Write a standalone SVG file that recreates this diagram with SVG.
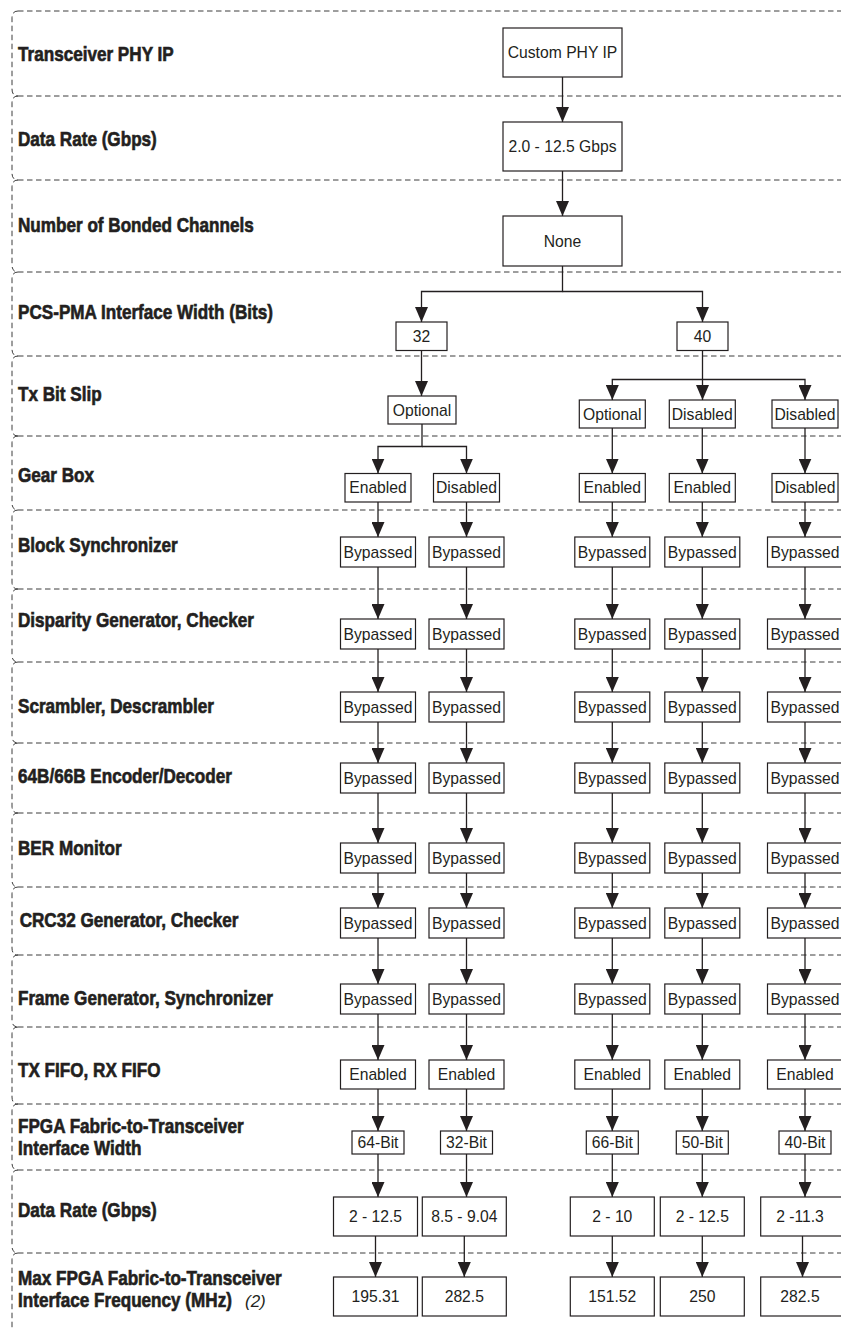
<svg xmlns="http://www.w3.org/2000/svg" width="841" height="1329" viewBox="0 0 841 1329">
<defs>
  <marker id="arw" markerUnits="userSpaceOnUse" markerWidth="15" markerHeight="13" refX="15" refY="6.5" orient="auto">
    <path d="M0,0 L15,6.5 L0,13 z" fill="#231f20"/>
  </marker>
  <style>
    .sep { fill:none; stroke:#3c3c3c; stroke-width:1; stroke-dasharray:5.5 3.5; }
    .lbl { font-family:"Liberation Sans", Arial, sans-serif; font-weight:bold; font-size:20.5px; fill:#231f20; stroke:#231f20; stroke-width:0.65; }
    .note { font-family:"Liberation Sans", Arial, sans-serif; font-style:italic; font-size:17px; fill:#231f20; }
    .node rect { fill:#fff; stroke:#231f20; stroke-width:1.2; }
    .node text { font-family:"Liberation Sans", Arial, sans-serif; font-size:15.7px; fill:#231f20; text-anchor:middle; }
    .wire { fill:none; stroke:#231f20; stroke-width:1.3; }
    .wire path.a { marker-end:url(#arw); }
  </style>
</defs>
<rect width="841" height="1329" fill="#fff"/>

<!-- row bands: shared dashed separators plus rounded left edges -->
<g id="rows" class="sep">
  <path d="M18,11 H841 M18,96 H841 M18,180 H841 M18,272 H841 M18,356 H841 M18,436 H841 M18,510 H841 M18,589 H841 M18,662 H841 M18,743 H841 M18,813 H841 M18,887 H841 M18,955 H841 M18,1027 H841 M18,1104 H841 M18,1170 H841 M18,1253 H841"/>
  <path d="M18,11 Q12,11 12,18 V89 Q12,96 18,96"/>
  <path d="M18,96 Q12,96 12,103 V173 Q12,180 18,180"/>
  <path d="M18,180 Q12,180 12,187 V265 Q12,272 18,272"/>
  <path d="M18,272 Q12,272 12,279 V349 Q12,356 18,356"/>
  <path d="M18,356 Q12,356 12,363 V429 Q12,436 18,436"/>
  <path d="M18,436 Q12,436 12,443 V503 Q12,510 18,510"/>
  <path d="M18,510 Q12,510 12,517 V582 Q12,589 18,589"/>
  <path d="M18,589 Q12,589 12,596 V655 Q12,662 18,662"/>
  <path d="M18,662 Q12,662 12,669 V736 Q12,743 18,743"/>
  <path d="M18,743 Q12,743 12,750 V806 Q12,813 18,813"/>
  <path d="M18,813 Q12,813 12,820 V880 Q12,887 18,887"/>
  <path d="M18,887 Q12,887 12,894 V948 Q12,955 18,955"/>
  <path d="M18,955 Q12,955 12,962 V1020 Q12,1027 18,1027"/>
  <path d="M18,1027 Q12,1027 12,1034 V1097 Q12,1104 18,1104"/>
  <path d="M18,1104 Q12,1104 12,1111 V1163 Q12,1170 18,1170"/>
  <path d="M18,1170 Q12,1170 12,1177 V1246 Q12,1253 18,1253"/>
  <path d="M18,1253 Q12,1253 12,1260 V1329"/>
</g>

<!-- row headings (condensed heavy sans) -->
<g id="labels" transform="matrix(0.835 0 0 1 18 0)">
  <text class="lbl" x="0" y="61.5">Transceiver PHY IP</text>
  <text class="lbl" x="0" y="146.5">Data Rate (Gbps)</text>
  <text class="lbl" x="0" y="232">Number of Bonded Channels</text>
  <text class="lbl" x="0" y="319">PCS-PMA Interface Width (Bits)</text>
  <text class="lbl" x="0" y="401">Tx Bit Slip</text>
  <text class="lbl" x="0" y="482">Gear Box</text>
  <text class="lbl" x="0" y="552">Block Synchronizer</text>
  <text class="lbl" x="0" y="627">Disparity Generator, Checker</text>
  <text class="lbl" x="0" y="713">Scrambler, Descrambler</text>
  <text class="lbl" x="0" y="783">64B/66B Encoder/Decoder</text>
  <text class="lbl" x="0" y="855">BER Monitor</text>
  <text class="lbl" x="2" y="927">CRC32 Generator, Checker</text>
  <text class="lbl" x="0" y="1005">Frame Generator, Synchronizer</text>
  <text class="lbl" x="0" y="1077">TX FIFO, RX FIFO</text>
  <text class="lbl" x="0" y="1133">FPGA Fabric-to-Transceiver</text>
  <text class="lbl" x="0" y="1155">Interface Width</text>
  <text class="lbl" x="0" y="1217">Data Rate (Gbps)</text>
  <text class="lbl" x="0" y="1285">Max FPGA Fabric-to-Transceiver</text>
  <text class="lbl" x="0" y="1307">Interface Frequency (MHz)</text>
</g>
<text class="note" x="245" y="1307">(2)</text>

<!-- connectors -->
<g id="connectors" class="wire">
  <path class="a" d="M562.5,77 V122"/>
  <path class="a" d="M562.5,171 V216"/>
  <path class="a" d="M562.5,266 V291.5 H421.5 V322"/>
  <path class="a" d="M562.5,291.5 H702.5 V322"/>
  <path class="a" d="M421.5,350.5 V396"/>
  <path class="a" d="M422,424 V446.5 H378 V473.5"/>
  <path class="a" d="M422,446.5 H466.5 V473.5"/>
  <path class="a" d="M702.5,350.5 V400"/>
  <path class="a" d="M702.5,379.5 H612.3 V400"/>
  <path class="a" d="M702.5,379.5 H805 V400"/>
  <path class="a" d="M612.3,428 V473.5"/>
  <path class="a" d="M805,428 V473.5"/>
  <path class="a" d="M702.3,428 V473.5"/>
  <!-- column chains -->
  <path class="a" d="M378,502 V537"/><path class="a" d="M378,567 V619"/><path class="a" d="M378,649 V692"/><path class="a" d="M378,722 V763"/><path class="a" d="M378,793 V843"/><path class="a" d="M378,873 V908"/><path class="a" d="M378,938 V984"/><path class="a" d="M378,1014 V1060"/><path class="a" d="M378,1089 V1131"/><path class="a" d="M378,1154 V1197"/><path class="a" d="M375.5,1236 V1277"/>
  <path class="a" d="M466.5,502 V537"/><path class="a" d="M466.5,567 V619"/><path class="a" d="M466.5,649 V692"/><path class="a" d="M466.5,722 V763"/><path class="a" d="M466.5,793 V843"/><path class="a" d="M466.5,873 V908"/><path class="a" d="M466.5,938 V984"/><path class="a" d="M466.5,1014 V1060"/><path class="a" d="M466.5,1089 V1131"/><path class="a" d="M466.5,1154 V1197"/><path class="a" d="M464.3,1236 V1277"/>
  <path class="a" d="M612.3,502 V537"/><path class="a" d="M612.3,567 V619"/><path class="a" d="M612.3,649 V692"/><path class="a" d="M612.3,722 V763"/><path class="a" d="M612.3,793 V843"/><path class="a" d="M612.3,873 V908"/><path class="a" d="M612.3,938 V984"/><path class="a" d="M612.3,1014 V1060"/><path class="a" d="M612.3,1089 V1131"/><path class="a" d="M612.3,1154 V1197"/><path class="a" d="M612.3,1236 V1277"/>
  <path class="a" d="M702.3,502 V537"/><path class="a" d="M702.3,567 V619"/><path class="a" d="M702.3,649 V692"/><path class="a" d="M702.3,722 V763"/><path class="a" d="M702.3,793 V843"/><path class="a" d="M702.3,873 V908"/><path class="a" d="M702.3,938 V984"/><path class="a" d="M702.3,1014 V1060"/><path class="a" d="M702.3,1089 V1131"/><path class="a" d="M702.3,1154 V1197"/><path class="a" d="M702.3,1236 V1277"/>
  <path class="a" d="M805,502 V537"/><path class="a" d="M805,567 V619"/><path class="a" d="M805,649 V692"/><path class="a" d="M805,722 V763"/><path class="a" d="M805,793 V843"/><path class="a" d="M805,873 V908"/><path class="a" d="M805,938 V984"/><path class="a" d="M805,1014 V1060"/><path class="a" d="M805,1089 V1131"/><path class="a" d="M805,1154 V1197"/><path class="a" d="M802.5,1236 V1277"/>
</g>

<!-- nodes: top chain -->
<g id="n-custom-phy" class="node"><rect x="503" y="28" width="119" height="49"/><text x="562.5" y="58">Custom PHY IP</text></g>
<g id="n-rate" class="node"><rect x="503" y="122" width="119" height="49"/><text x="562.5" y="152">2.0 - 12.5 Gbps</text></g>
<g id="n-bonded" class="node"><rect x="503" y="216" width="119" height="50"/><text x="562.5" y="246.5">None</text></g>
<g id="n-w32" class="node"><rect x="396" y="322" width="51" height="28.5"/><text x="421.5" y="341.8">32</text></g>
<g id="n-w40" class="node"><rect x="677" y="322" width="51" height="28.5"/><text x="702.5" y="341.8">40</text></g>

<!-- Tx bit slip -->
<g id="n-slip-a" class="node"><rect x="388" y="396" width="68" height="28"/><text x="422" y="415.5">Optional</text></g>
<g id="n-slip-c" class="node"><rect x="579.3" y="400" width="66" height="28"/><text x="612.3" y="419.5">Optional</text></g>
<g id="n-slip-d" class="node"><rect x="669.3" y="400" width="66" height="28"/><text x="702.3" y="419.5">Disabled</text></g>
<g id="n-slip-e" class="node"><rect x="772" y="400" width="66" height="28"/><text x="805" y="419.5">Disabled</text></g>

<!-- Gear box -->
<g id="n-gear-a" class="node"><rect x="345" y="473.5" width="66" height="28.5"/><text x="378" y="493.3">Enabled</text></g>
<g id="n-gear-b" class="node"><rect x="433.5" y="473.5" width="66" height="28.5"/><text x="466.5" y="493.3">Disabled</text></g>
<g id="n-gear-c" class="node"><rect x="579.3" y="473.5" width="66" height="28.5"/><text x="612.3" y="493.3">Enabled</text></g>
<g id="n-gear-d" class="node"><rect x="669.3" y="473.5" width="66" height="28.5"/><text x="702.3" y="493.3">Enabled</text></g>
<g id="n-gear-e" class="node"><rect x="772" y="473.5" width="66" height="28.5"/><text x="805" y="493.3">Disabled</text></g>

<!-- Block synchronizer -->
<g id="n-bsync-a" class="node"><rect x="340.5" y="537" width="75" height="30"/><text x="378" y="557.5">Bypassed</text></g>
<g id="n-bsync-b" class="node"><rect x="429" y="537" width="75" height="30"/><text x="466.5" y="557.5">Bypassed</text></g>
<g id="n-bsync-c" class="node"><rect x="574.8" y="537" width="75" height="30"/><text x="612.3" y="557.5">Bypassed</text></g>
<g id="n-bsync-d" class="node"><rect x="664.8" y="537" width="75" height="30"/><text x="702.3" y="557.5">Bypassed</text></g>
<g id="n-bsync-e" class="node"><rect x="767.5" y="537" width="75" height="30"/><text x="805" y="557.5">Bypassed</text></g>

<!-- Disparity generator, checker -->
<g id="n-disp-a" class="node"><rect x="340.5" y="619" width="75" height="30"/><text x="378" y="639.5">Bypassed</text></g>
<g id="n-disp-b" class="node"><rect x="429" y="619" width="75" height="30"/><text x="466.5" y="639.5">Bypassed</text></g>
<g id="n-disp-c" class="node"><rect x="574.8" y="619" width="75" height="30"/><text x="612.3" y="639.5">Bypassed</text></g>
<g id="n-disp-d" class="node"><rect x="664.8" y="619" width="75" height="30"/><text x="702.3" y="639.5">Bypassed</text></g>
<g id="n-disp-e" class="node"><rect x="767.5" y="619" width="75" height="30"/><text x="805" y="639.5">Bypassed</text></g>

<!-- Scrambler, descrambler -->
<g id="n-scr-a" class="node"><rect x="340.5" y="692" width="75" height="30"/><text x="378" y="712.5">Bypassed</text></g>
<g id="n-scr-b" class="node"><rect x="429" y="692" width="75" height="30"/><text x="466.5" y="712.5">Bypassed</text></g>
<g id="n-scr-c" class="node"><rect x="574.8" y="692" width="75" height="30"/><text x="612.3" y="712.5">Bypassed</text></g>
<g id="n-scr-d" class="node"><rect x="664.8" y="692" width="75" height="30"/><text x="702.3" y="712.5">Bypassed</text></g>
<g id="n-scr-e" class="node"><rect x="767.5" y="692" width="75" height="30"/><text x="805" y="712.5">Bypassed</text></g>

<!-- 64B/66B encoder/decoder -->
<g id="n-enc-a" class="node"><rect x="340.5" y="763" width="75" height="30"/><text x="378" y="783.5">Bypassed</text></g>
<g id="n-enc-b" class="node"><rect x="429" y="763" width="75" height="30"/><text x="466.5" y="783.5">Bypassed</text></g>
<g id="n-enc-c" class="node"><rect x="574.8" y="763" width="75" height="30"/><text x="612.3" y="783.5">Bypassed</text></g>
<g id="n-enc-d" class="node"><rect x="664.8" y="763" width="75" height="30"/><text x="702.3" y="783.5">Bypassed</text></g>
<g id="n-enc-e" class="node"><rect x="767.5" y="763" width="75" height="30"/><text x="805" y="783.5">Bypassed</text></g>

<!-- BER monitor -->
<g id="n-ber-a" class="node"><rect x="340.5" y="843" width="75" height="30"/><text x="378" y="863.5">Bypassed</text></g>
<g id="n-ber-b" class="node"><rect x="429" y="843" width="75" height="30"/><text x="466.5" y="863.5">Bypassed</text></g>
<g id="n-ber-c" class="node"><rect x="574.8" y="843" width="75" height="30"/><text x="612.3" y="863.5">Bypassed</text></g>
<g id="n-ber-d" class="node"><rect x="664.8" y="843" width="75" height="30"/><text x="702.3" y="863.5">Bypassed</text></g>
<g id="n-ber-e" class="node"><rect x="767.5" y="843" width="75" height="30"/><text x="805" y="863.5">Bypassed</text></g>

<!-- CRC32 generator, checker -->
<g id="n-crc-a" class="node"><rect x="340.5" y="908" width="75" height="30"/><text x="378" y="928.5">Bypassed</text></g>
<g id="n-crc-b" class="node"><rect x="429" y="908" width="75" height="30"/><text x="466.5" y="928.5">Bypassed</text></g>
<g id="n-crc-c" class="node"><rect x="574.8" y="908" width="75" height="30"/><text x="612.3" y="928.5">Bypassed</text></g>
<g id="n-crc-d" class="node"><rect x="664.8" y="908" width="75" height="30"/><text x="702.3" y="928.5">Bypassed</text></g>
<g id="n-crc-e" class="node"><rect x="767.5" y="908" width="75" height="30"/><text x="805" y="928.5">Bypassed</text></g>

<!-- Frame generator, synchronizer -->
<g id="n-frm-a" class="node"><rect x="340.5" y="984" width="75" height="30"/><text x="378" y="1004.5">Bypassed</text></g>
<g id="n-frm-b" class="node"><rect x="429" y="984" width="75" height="30"/><text x="466.5" y="1004.5">Bypassed</text></g>
<g id="n-frm-c" class="node"><rect x="574.8" y="984" width="75" height="30"/><text x="612.3" y="1004.5">Bypassed</text></g>
<g id="n-frm-d" class="node"><rect x="664.8" y="984" width="75" height="30"/><text x="702.3" y="1004.5">Bypassed</text></g>
<g id="n-frm-e" class="node"><rect x="767.5" y="984" width="75" height="30"/><text x="805" y="1004.5">Bypassed</text></g>

<!-- TX FIFO, RX FIFO -->
<g id="n-fifo-a" class="node"><rect x="340.5" y="1060" width="75" height="29"/><text x="378" y="1080">Enabled</text></g>
<g id="n-fifo-b" class="node"><rect x="429" y="1060" width="75" height="29"/><text x="466.5" y="1080">Enabled</text></g>
<g id="n-fifo-c" class="node"><rect x="574.8" y="1060" width="75" height="29"/><text x="612.3" y="1080">Enabled</text></g>
<g id="n-fifo-d" class="node"><rect x="664.8" y="1060" width="75" height="29"/><text x="702.3" y="1080">Enabled</text></g>
<g id="n-fifo-e" class="node"><rect x="767.5" y="1060" width="75" height="29"/><text x="805" y="1080">Enabled</text></g>

<!-- Fabric interface width -->
<g id="n-bits-a" class="node"><rect x="352" y="1131" width="52" height="23"/><text x="378" y="1148">64-Bit</text></g>
<g id="n-bits-b" class="node"><rect x="440.5" y="1131" width="52" height="23"/><text x="466.5" y="1148">32-Bit</text></g>
<g id="n-bits-c" class="node"><rect x="586.3" y="1131" width="52" height="23"/><text x="612.3" y="1148">66-Bit</text></g>
<g id="n-bits-d" class="node"><rect x="676.3" y="1131" width="52" height="23"/><text x="702.3" y="1148">50-Bit</text></g>
<g id="n-bits-e" class="node"><rect x="779" y="1131" width="52" height="23"/><text x="805" y="1148">40-Bit</text></g>

<!-- Data rate per mode -->
<g id="n-dr-a" class="node"><rect x="333.5" y="1197" width="84" height="39"/><text x="375.5" y="1222">2 - 12.5</text></g>
<g id="n-dr-b" class="node"><rect x="422.3" y="1197" width="84" height="39"/><text x="464.3" y="1222">8.5 - 9.04</text></g>
<g id="n-dr-c" class="node"><rect x="570.3" y="1197" width="84" height="39"/><text x="612.3" y="1222">2 - 10</text></g>
<g id="n-dr-d" class="node"><rect x="660.3" y="1197" width="84" height="39"/><text x="702.3" y="1222">2 - 12.5</text></g>
<g id="n-dr-e" class="node"><rect x="760.7" y="1197" width="84" height="39"/><text x="800" y="1222">2 -11.3</text></g>

<!-- Max fabric interface frequency -->
<g id="n-mhz-a" class="node"><rect x="333.5" y="1277" width="84" height="39"/><text x="375.5" y="1302">195.31</text></g>
<g id="n-mhz-b" class="node"><rect x="422.3" y="1277" width="84" height="39"/><text x="464.3" y="1302">282.5</text></g>
<g id="n-mhz-c" class="node"><rect x="570.3" y="1277" width="84" height="39"/><text x="612.3" y="1302">151.52</text></g>
<g id="n-mhz-d" class="node"><rect x="660.3" y="1277" width="84" height="39"/><text x="702.3" y="1302">250</text></g>
<g id="n-mhz-e" class="node"><rect x="760.7" y="1277" width="84" height="39"/><text x="800" y="1302">282.5</text></g>
</svg>
